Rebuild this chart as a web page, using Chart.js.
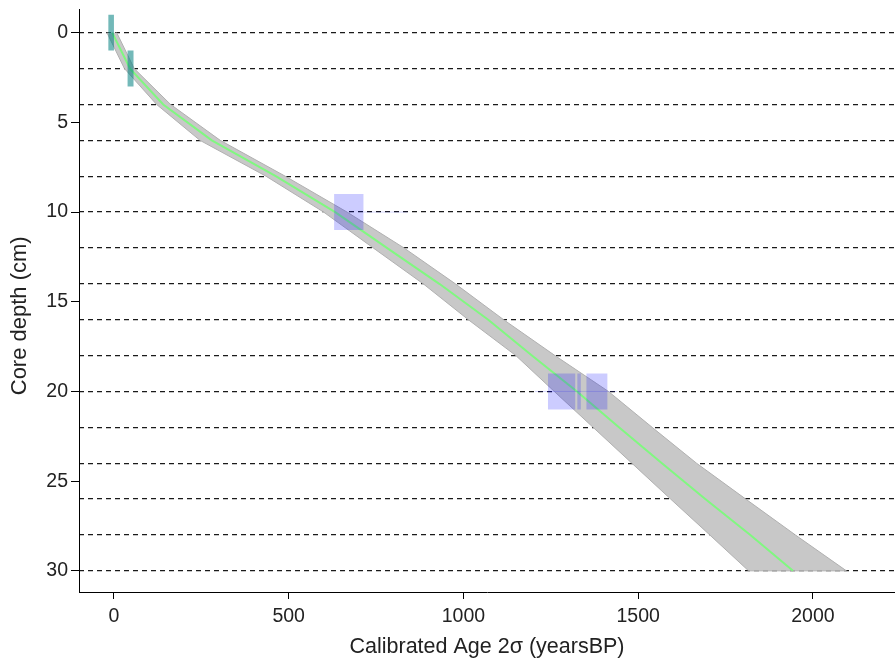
<!DOCTYPE html>
<html>
<head>
<meta charset="utf-8">
<script src="https://cdn.jsdelivr.net/npm/chart.js@4/dist/chart.umd.min.js"></script>
<style>
  body { margin: 0; background: #fff; }
  #wrap { width: 895px; height: 660px; }
</style>
</head>
<body>
<div id="wrap"><canvas id="canvas1" width="895" height="660"></canvas></div>
<script>
// age-depth model (depth in cm, ages in cal years BP)
var depths    = [0, 2, 4, 6, 8, 10, 12, 14, 16, 18, 20, 22, 24, 26, 28, 30];
var ageMedian = [-5, 46, 141, 280, 463, 633, 781, 931, 1071, 1196, 1325, 1445, 1568, 1692, 1821, 1943];
var ageMin    = [-20, 30, 122, 246, 435, 600, 742, 885, 1014, 1150, 1260, 1371, 1482, 1593, 1705, 1816];
var ageMax    = [8, 58, 162, 304, 490, 667, 830, 977, 1115, 1262, 1415, 1540, 1667, 1808, 1950, 2096];

// dated samples: calibrated 2 sigma ranges
var dateDepth = [0, 2, 10, 20, 20, 20];
var dateFrom  = [-16, 39, 630, 1242, 1326, 1352];
var dateTo    = [0, 56, 714, 1320, 1336, 1412];
var dateKind  = ["210Pb", "210Pb", "14C", "14C", "14C", "14C"];

// low-probability tails of the calibrated ranges
var tailDepth = [10, 20];
var tailFrom  = [714, 1205];
var tailTo    = [840, 1440];

// tick positions
var xTicks = [0, 500, 1000, 1500, 2000];
var yTicks = [0, 5, 10, 15, 20, 25, 30];
var guideDepths = [0, 2, 4, 6, 8, 10, 12, 14, 16, 18, 20, 22, 24, 26, 28, 30];

var kindColor = {
  "210Pb": "rgba(0, 128, 128, 0.55)",
  "14C": "rgba(0, 0, 255, 0.2)"
};
var halfThick = 1;

var bandPts = [];
for (var i = 0; i < depths.length; i++) bandPts.push({x: ageMin[i], y: depths[i]});
for (var j = depths.length - 1; j >= 0; j--) bandPts.push({x: ageMax[j], y: depths[j]});

var medianPts = depths.map(function (d, i) { return {x: ageMedian[i], y: d}; });

var datasets = [];
datasets.push({
  label: "range",
  data: bandPts,
  showLine: true,
  pointRadius: 0,
  borderColor: "#b0b0b0",
  borderWidth: 1,
  backgroundColor: "#c8c8c8",
  fill: "shape",
  order: 5
});
datasets.push({
  label: "median",
  data: medianPts,
  showLine: true,
  pointRadius: 0,
  borderColor: "#80f880",
  borderWidth: 2,
  fill: false,
  order: 4
});
tailDepth.forEach(function (d, i) {
  datasets.push({
    label: "tail",
    data: [{x: tailFrom[i], y: d}, {x: tailTo[i], y: d}],
    showLine: true,
    pointRadius: 0,
    borderColor: "rgba(0, 0, 255, 0.15)",
    borderWidth: 1,
    fill: false,
    order: 2
  });
});
dateDepth.forEach(function (d, i) {
  datasets.push({
    label: dateKind[i],
    data: [
      {x: dateFrom[i], y: d - halfThick},
      {x: dateTo[i], y: d - halfThick},
      {x: dateTo[i], y: d + halfThick},
      {x: dateFrom[i], y: d + halfThick},
      {x: dateFrom[i], y: d - halfThick}
    ],
    showLine: true,
    pointRadius: 0,
    borderWidth: 0,
    borderColor: "rgba(0,0,0,0)",
    backgroundColor: kindColor[dateKind[i]],
    fill: "shape",
    order: 1
  });
});

function fixedTicks(list) {
  return function (s) { s.ticks = list.map(function (v) { return {value: v}; }); };
}
function plain(v) { return String(v); }
function noPad(s) { s.paddingTop = 0; s.paddingBottom = 0; s.paddingLeft = 0; s.paddingRight = 0; }

Chart.defaults.font.family = "'Liberation Sans', Arial, sans-serif";

new Chart(document.getElementById("canvas1"), {
  type: "scatter",
  data: { datasets: datasets },
  options: {
    responsive: false,
    animation: false,
    layout: { padding: { top: 9, left: 0, right: 0, bottom: 0 } },
    plugins: { legend: { display: false }, tooltip: { enabled: false } },
    scales: {
      x: {
        type: "linear",
        min: -100,
        max: 2235,
        afterBuildTicks: fixedTicks(xTicks),
        ticks: { color: "#222", font: { size: 19.5 }, padding: 6, callback: plain },
        grid: { drawOnChartArea: false, color: "#000", tickLength: 7 },
        border: { color: "#000", width: 1 },
        title: { display: true, text: "Calibrated Age 2σ (yearsBP)", color: "#222", font: { size: 21.5 }, padding: { top: 0, bottom: 0 } },
        afterFit: function (s) { s.height = 68; noPad(s); }
      },
      y: {
        type: "linear",
        reverse: true,
        min: -1.32,
        max: 31.18,
        position: "left",
        afterBuildTicks: fixedTicks(yTicks),
        ticks: { color: "#222", font: { size: 19.5 }, padding: 3, callback: plain },
        grid: { drawOnChartArea: false, color: "#000", tickLength: 8 },
        border: { color: "#000", width: 1 },
        // trailing spaces nudge the rotated title down a little
        title: { display: true, text: "Core depth (cm)\u00a0\u00a0\u00a0\u00a0\u00a0", color: "#222", font: { size: 22 }, padding: { top: 7, bottom: 0 } },
        afterFit: function (s) { s.width = 79; noPad(s); }
      },
      y2: {
        type: "linear",
        reverse: true,
        min: -1.32,
        max: 31.18,
        position: "right",
        z: 1,
        afterBuildTicks: fixedTicks(guideDepths),
        ticks: { display: false },
        grid: { drawTicks: false, color: "#1a1a1a", lineWidth: 1.2 },
        border: { display: false, dash: [5, 4] },
        afterFit: function (s) { s.width = 0; noPad(s); }
      }
    }
  }
});
</script>
</body>
</html>
